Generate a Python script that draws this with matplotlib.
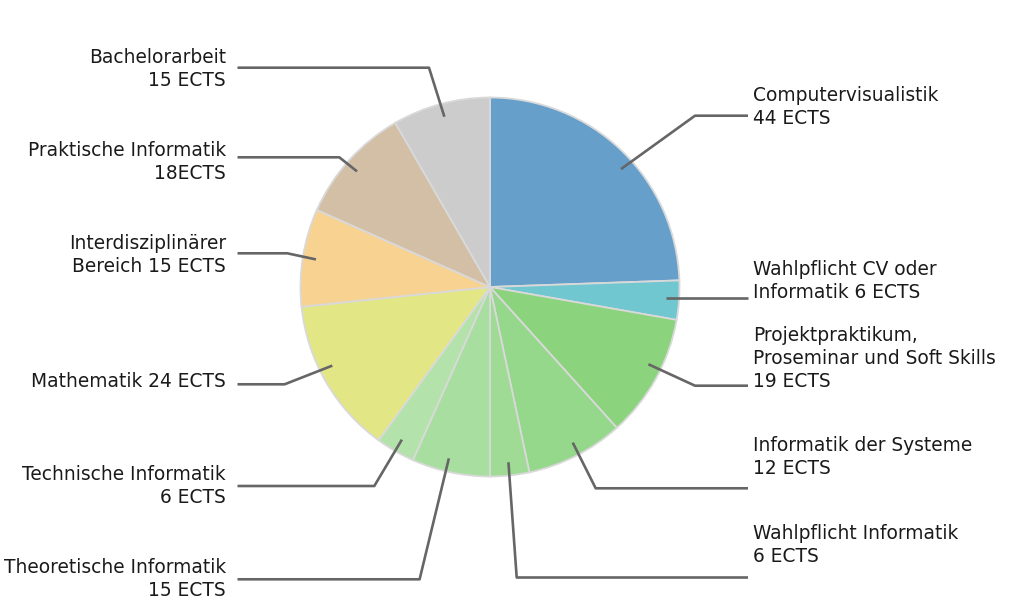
import numpy as np
import matplotlib
matplotlib.use("Agg")
import matplotlib.pyplot as plt

# ---- data ----
categories = [
    "Computervisualistik\n44 ECTS",
    "Wahlpflicht CV oder\nInformatik 6 ECTS",
    "Projektpraktikum,\nProseminar und Soft Skills\n19 ECTS",
    "Informatik der Systeme\n12 ECTS",
    "Wahlpflicht Informatik\n6 ECTS",
    "Theoretische Informatik\n15 ECTS",
    "Technische Informatik\n6 ECTS",
    "Mathematik 24 ECTS",
    "Interdisziplinärer\nBereich 15 ECTS",
    "Praktische Informatik\n18ECTS",
    "Bachelorarbeit\n15 ECTS",
]
values = [44, 6, 19, 15, 6, 12, 6, 24, 15, 18, 15]
colors = ["#679fcb", "#71c7d0", "#8bd37d", "#95d78b", "#9fdb95", "#a8dea0",
          "#b4e2ab", "#e2e684", "#f8d291", "#d3bfa6", "#cccccc"]

# ---- layout (pixel coords, y downward) ----
W, H = 1024, 614
CX, CY, R = 490, 287, 189.5
side = ["r", "r", "r", "r", "r", "l", "l", "l", "l", "l", "l"]
anchor_shift = [-4, 0.5, 3, 1, 0, -1.5, 0, -3.5, 0, 1, 0]   # degrees
knees = [(695, 115.7), None, (695, 385.7), (595.7, 488.3), (516.7, 577.5),
         (419.6, 579.3), (374.3, 486), (284.6, 384.3), (287.3, 253.3),
         (339.3, 157.3), (429, 67.7)]
text_first_y = [95, 269, 335, 445, 533, 567, 474, 381, 243, 150, 57]
RIGHT_LINE_END, RIGHT_TEXT_X = 748, 753
LEFT_LINE_START, LEFT_TEXT_X = 237.5, 226

def Y(y):
    return H - y

fig = plt.figure(figsize=(W / 100, H / 100), dpi=100)
ax = fig.add_axes([0, 0, 1, 1])
wedges, _ = ax.pie(values, colors=colors, startangle=90, counterclock=False,
                   center=(CX, Y(CY)), radius=R,
                   wedgeprops=dict(edgecolor="#d9d9d9", linewidth=1.3))
ax.set_xlim(0, W)
ax.set_ylim(0, H)
ax.set_aspect("equal")
ax.axis("off")

line_kw = dict(color="#666666", lw=1.9, solid_capstyle="butt", zorder=3)
fs = 13.4
ls = 1.26
lh = fs * 1.2 * 100 / 72
for w, lab, s, knee, ty, sh in zip(wedges, categories, side, knees,
                                   text_first_y, anchor_shift):
    mid = np.deg2rad((w.theta1 + w.theta2) / 2 + sh)
    ax_x = CX + 0.93 * R * np.cos(mid)
    ax_y = CY - 0.93 * R * np.sin(mid)
    if knee is None:
        kx, ky = ax_x, ax_y
    else:
        kx, ky = knee
    end_x = RIGHT_LINE_END if s == "r" else LEFT_LINE_START
    ax.plot([ax_x, kx, end_x], [Y(ax_y), Y(ky), Y(ky)], **line_kw)
    top = ty - lh / 2 + 2
    if s == "r":
        ax.text(RIGHT_TEXT_X, Y(top), lab, ha="left", va="top", fontsize=fs,
                color="#1a1a1a", linespacing=ls)
    else:
        ax.text(LEFT_TEXT_X, Y(top), lab, ha="right", va="top", fontsize=fs,
                color="#1a1a1a", linespacing=ls, multialignment="right")

fig.savefig("out.png", dpi=100, facecolor="white")
